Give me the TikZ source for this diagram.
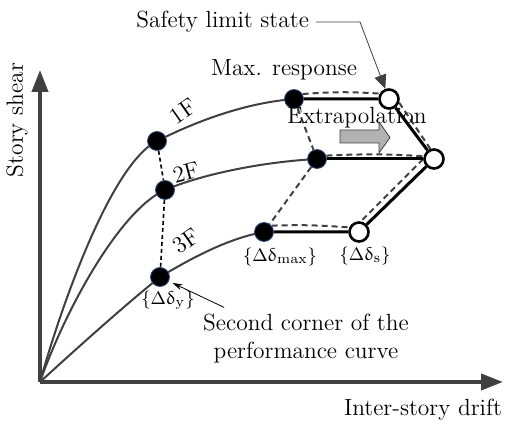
\documentclass[tikz,border=0pt]{standalone}
\usepackage{amsmath}
\usepackage{upgreek}
\usepackage{tikz}
\usetikzlibrary{arrows.meta, positioning, backgrounds}

\definecolor{darkline}{HTML}{404040}
\definecolor{rim}{HTML}{2B4C8C}

\begin{document}
\begin{tikzpicture}[x=0.5pt,y=-0.5pt,font=\fontsize{11.7}{14}\selectfont,
    dot/.style={circle,fill=black,draw=rim,thin,minimum size=9.5pt,inner sep=0pt},
    limit/.style={circle,fill=white,draw=black,line width=1.3pt,minimum size=9.5pt,inner sep=0pt},
    drift/.style={font=\fontsize{9.5}{11}\selectfont,inner sep=1pt},
    curve/.style={darkline,line width=1pt},
    extra/.style={darkline,line width=1pt,dash pattern=on 3pt off 2pt},
    link/.style={black,line width=1.5pt},
    axis/.style={darkline,line width=2pt,-{Triangle[length=11pt,width=8pt]}}]
  \useasboundingbox (0,0) rectangle (508,426);

  \coordinate (o) at (40,382);
  \coordinate (xend) at (503,382);
  \coordinate (yend) at (40,70);

  % yield points, max. responses and safety limits
  \node[dot] (y1) at (157,141) {};
  \node[dot] (y2) at (165,190) {};
  \node[dot] (y3) at (160,277) {};
  \node[dot] (m1) at (294,99) {};
  \node[dot] (m2) at (317,159) {};
  \node[dot] (m3) at (264,232) {};
  \node[limit] (s1) at (389,99) {};
  \node[limit] (s2) at (434,159) {};
  \node[limit] (s3) at (359,232) {};

  \node[drift,below=1pt of y3, xshift=4pt] (dy) {$\{\Delta\updelta_{\mathrm{y}}\}$};
  \node[drift,below=2pt of m3, xshift=8pt] (dmax) {$\{\Delta\updelta_{\mathrm{max}}\}$};
  \node[drift,below=1pt of s3, xshift=3pt] (ds) {$\{\Delta\updelta_{\mathrm{s}}\}$};

  \node[rotate=35] (f1) at (183,111) {1F};
  \node[rotate=15] (f2) at (186,172) {2F};
  \node[rotate=35] (f3) at (186,241) {3F};

  \node (maxresp) at (284,70) {Max. response};
  \node (extra) at (357,118) {Extrapolation};
  \node[anchor=east] (safety) at (316,22) {Safety limit state};
  \coordinate (bend) at (360,22);
  \node[align=center] (corner) at (306,339) {Second corner of the\\performance curve};
  \node (xlab) at (423,410) {Inter-story drift};
  \node[rotate=90] (ylab) at (17,120) {Story shear};

  % gray block arrow
  \filldraw[fill=gray!60,draw=darkline,thin]
    (340,130) -- (379,130) -- (379,122) -- (390,137.5) -- (379,153) -- (379,143) -- (340,143) -- cycle;

  \begin{scope}[on background layer]
    \draw[axis] (o) -- (xend);
    \draw[axis] (o) -- (yend);

    \draw[curve] (o) .. controls (60,310) and (110,165) .. (y1.center)
      .. controls (197,121) and (245,103) .. (m1.center);
    \draw[curve] (o) .. controls (65,310) and (120,210) .. (y2.center)
      .. controls (200,175) and (260,162) .. (m2.center);
    \draw[curve] (o) .. controls (75,350) and (125,305) .. (y3.center)
      .. controls (195,256) and (230,238) .. (m3.center);

    \draw[black,line width=0.8pt,dash pattern=on 2pt off 1.5pt] (y1) -- (y2) -- (y3);
    \draw[extra] (m1) -- (m2) -- (m3);

    \draw[extra] (m1.30) to[bend left=4] (s1.150);
    \draw[extra] (s1.-20) -- (s2.110);
    \draw[extra] (m2.20) to[bend left=3] (s2.165);
    \draw[extra] (s2.180) -- (s3.80);
    \draw[extra] (m3.40) to[bend left=3] (s3.155);

    \draw[link] (m1) -- (s1) -- (s2) -- (s3) -- (m3);
    \draw[link] (m2) -- (s2);
  \end{scope}

  \draw[darkline,thin,-{Triangle[length=7pt,width=6pt]}] (safety.east) -- (bend) -- (s1.110);
  \draw[black,thin,-{Stealth[length=5pt,width=3pt]},shorten >=2pt] ([xshift=14pt]corner.north west) -- (y3);
\end{tikzpicture}
\end{document}
